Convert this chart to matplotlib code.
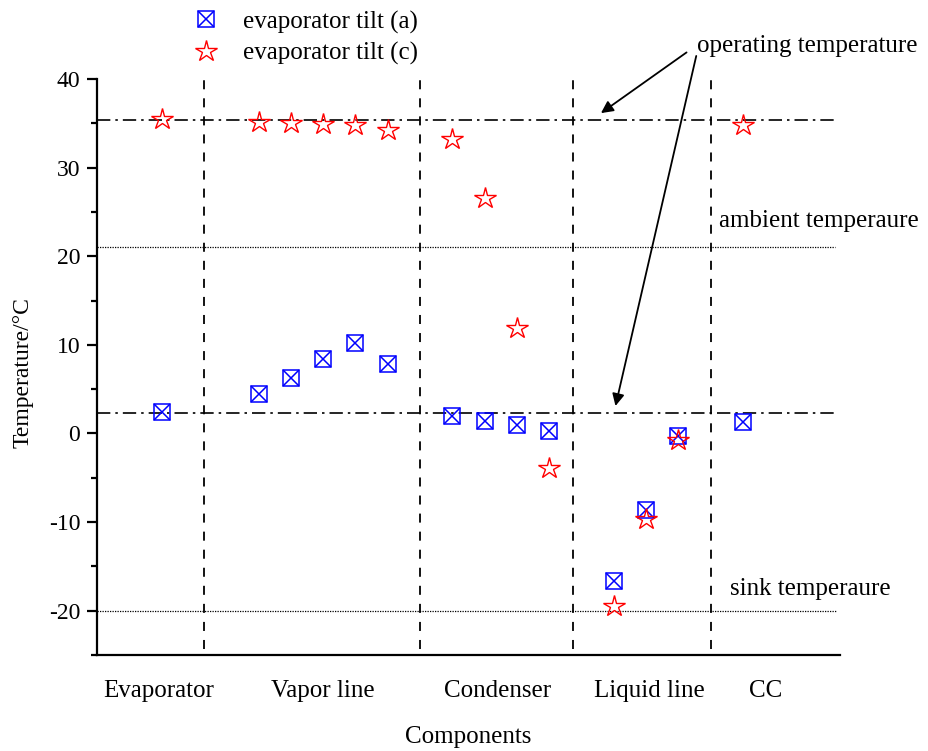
import matplotlib
matplotlib.use("Agg")
import matplotlib.pyplot as plt
from matplotlib.legend_handler import HandlerTuple

plt.rcParams['font.family'] = ['Liberation Serif', 'DejaVu Serif']
plt.rcParams['axes.unicode_minus'] = False

# positions of measurement points along the loop
x_pos = [2, 5, 6, 7, 8, 9, 11, 12, 13, 14, 16, 17, 18, 20]
tilt_a = [2.4, 4.4, 6.3, 8.4, 10.2, 7.8, 2.0, 1.4, 0.9, 0.3, -16.7, -8.6, -0.3, 1.3]
tilt_c = [35.5, 35.2, 35.0, 34.9, 34.8, 34.2, 33.2, 26.6, 11.9, -3.9, -19.5, -9.6, -0.7, 34.8]

categories = ['Evaporator', 'Vapor line', 'Condenser', 'Liquid line', 'CC']
cat_pos = [1.9, 7.0, 12.4, 17.1, 20.7]
section_bounds = [3.3, 10.0, 14.75, 19.0]

operating_temps = [35.4, 2.3]
ambient_temp = 21.0
sink_temp = -20.0

fig = plt.figure(figsize=(9.29, 7.51), dpi=100)
ax = fig.add_axes([97/929, 1-655/751, (840-97)/929, (655-79)/751])
ax.set_xlim(0, 23)
ax.set_ylim(-25, 40)

for s in ['top', 'right']:
    ax.spines[s].set_visible(False)
for s in ['left', 'bottom']:
    ax.spines[s].set_linewidth(1.6)

ax.set_yticks([-20, -10, 0, 10, 20, 30, 40])
ax.set_yticks([-25, -15, -5, 5, 15, 25, 35], minor=True)
ax.tick_params(axis='y', which='major', direction='out', length=7, width=1.6, labelsize=17, pad=5)
ax.tick_params(axis='y', which='minor', direction='out', length=4, width=1.6)
ax.set_xticks(cat_pos)
ax.set_xticklabels(categories)
ax.tick_params(axis='x', length=0, labelsize=18, pad=18)

for xb in section_bounds:
    ax.plot([xb, xb], [-24.3, 40.5], color='black', ls=(0, (5, 5)), lw=1.3, clip_on=False)
for yt in operating_temps:
    ax.plot([0, 22.95], [yt, yt], color='black', ls=(0, (8, 3, 1.5, 3)), lw=1.2)
ax.plot([0, 22.85], [ambient_temp, ambient_temp], color='black', ls=(0, (1, 1)), lw=0.9)
ax.plot([0, 22.9], [sink_temp, sink_temp], color='black', ls=(0, (1, 1)), lw=0.9)

sq = ax.plot(x_pos, tilt_a, ls='none', marker='s', ms=11, mfc='none', mec='blue', mew=1.1)[0]
xx = ax.plot(x_pos, tilt_a, ls='none', marker='x', ms=11, mec='blue', mew=1.1)[0]
st = ax.plot(x_pos, tilt_c, ls='none', marker='*', ms=16, mfc='none', mec='red', mew=1.0)[0]

ax.annotate('', xy=(15.6, 36.15), xytext=(18.25, 43.0),
            arrowprops=dict(arrowstyle='-|>', color='black', lw=1.3, mutation_scale=18, shrinkA=0, shrinkB=0),
            annotation_clip=False)
ax.annotate('', xy=(16.05, 3.1), xytext=(18.55, 42.6),
            arrowprops=dict(arrowstyle='-|>', color='black', lw=1.3, mutation_scale=18, shrinkA=0, shrinkB=0),
            annotation_clip=False)
ax.text(18.57, 43.7, 'operating temperature', fontsize=18, va='center', ha='left', clip_on=False)
ax.text(19.26, 24.0, 'ambient temperaure', fontsize=18, va='center', ha='left', clip_on=False)
ax.text(19.6, -17.5, 'sink temperaure', fontsize=18, va='center', ha='left', clip_on=False)

ax.set_ylabel('Temperature/°C', fontsize=17)
ax.yaxis.set_label_coords(-0.086, 0.49)
ax.set_xlabel('Components', fontsize=18, labelpad=17)

fig.legend([(sq, xx), st], ['evaporator tilt (a)', 'evaporator tilt (c)'],
           handler_map={tuple: HandlerTuple(ndivide=1)},
           loc='upper left', bbox_to_anchor=(178/929, 1+2/751), frameon=False, fontsize=18,
           numpoints=1, handlelength=1.2, handletextpad=0.9, labelspacing=0.35, borderpad=0)

fig.savefig('out.png', dpi=100)
